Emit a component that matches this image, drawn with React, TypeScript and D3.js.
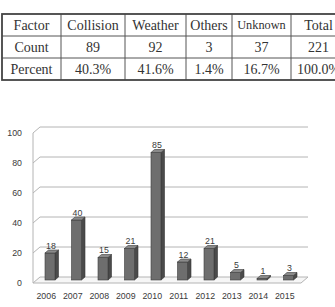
// Accident factor table + yearly count chart (pseudo-3D column chart).
import * as d3 from "d3";

const factorHeader = "Factor";
const factors = ["Collision", "Weather", "Others", "Unknown", "Total"];
const countLabel = "Count";
const counts = ["89", "92", "3", "37", "221"];
const percentLabel = "Percent";
const percents = ["40.3%", "41.6%", "1.4%", "16.7%", "100.0%"];

const years = ["2006", "2007", "2008", "2009", "2010", "2011", "2012", "2013", "2014", "2015"];
const values = [18, 40, 15, 21, 85, 12, 21, 5, 1, 3];
const yTicks = [0, 20, 40, 60, 80, 100];

// table layout
const colEdges = [2, 61, 125, 186, 232, 291, 346];
const rowEdges = [14, 36, 58, 80];

// chart layout
const front = { left: 33, right: 298, bottom: 283, top: 133 };
const wall = { dx: 7, dy: -6 }; // back wall offset from front plane
const mid = { dx: 3.75, dy: -3 }; // bars sit mid-depth
const barW = 10;
const barDepth = { dx: 3.5, dy: -3 };

const INK = "#333";
const LABEL = "#3a3a3a";
const GRID = "#b4b4b4";
const SANS = "'Liberation Sans', Arial, sans-serif";
const SERIF = "'Liberation Serif', 'Times New Roman', serif";

function Table() {
  const rows = [
    [factorHeader, ...factors],
    [countLabel, ...counts],
    [percentLabel, ...percents],
  ];
  return (
    <g>
      {rows.map((row, ri) =>
        row.map((cell, ci) => {
          const cx = (colEdges[ci] + colEdges[ci + 1]) / 2;
          const cy = (rowEdges[ri] + rowEdges[ri + 1]) / 2;
          const small = ri === 0 && cell === "Unknown";
          return (
            <text
              key={`${ri}-${ci}`}
              x={cx}
              y={cy}
              dy="0.36em"
              textAnchor="middle"
              fontFamily={SERIF}
              fontSize={small ? 12.3 : 14}
              fill={INK}
            >
              {cell}
            </text>
          );
        }),
      )}
      {rowEdges.slice(1, -1).map((y) => (
        <line key={`r${y}`} x1={colEdges[0]} x2={colEdges[colEdges.length - 1]} y1={y} y2={y} stroke="#555" strokeWidth={1} />
      ))}
      {colEdges.slice(1, -1).map((x) => (
        <line key={`c${x}`} x1={x} x2={x} y1={rowEdges[0]} y2={rowEdges[rowEdges.length - 1]} stroke="#555" strokeWidth={1} />
      ))}
      <rect
        x={colEdges[0]}
        y={rowEdges[0]}
        width={colEdges[colEdges.length - 1] - colEdges[0]}
        height={rowEdges[rowEdges.length - 1] - rowEdges[0]}
        fill="none"
        stroke="#444"
        strokeWidth={1.8}
      />
    </g>
  );
}

function Chart() {
  const x = d3.scaleBand<string>().domain(years).range([front.left, front.right]).padding(0);
  const y = d3.scaleLinear().domain([0, 100]).range([front.bottom, front.top]);
  const rightBack = front.right + 3 + wall.dx;

  const floor = d3.path();
  floor.moveTo(front.left, y(0));
  floor.lineTo(front.left + wall.dx, y(0) + wall.dy);
  floor.lineTo(rightBack, y(0) + wall.dy);
  floor.lineTo(rightBack - wall.dx, y(0));
  floor.closePath();

  return (
    <g>
      {/* gridlines on the back wall with slanted side-wall segment */}
      {yTicks.slice(1).map((t) => (
        <polyline
          key={t}
          points={`${front.left},${y(t)} ${front.left + wall.dx},${y(t) + wall.dy} ${rightBack},${y(t) + wall.dy}`}
          fill="none"
          stroke={GRID}
          strokeWidth={1}
        />
      ))}
      <path d={floor.toString()} fill="#f6f6f6" stroke={GRID} strokeWidth={1} />
      <line x1={front.left} x2={front.left} y1={y(100)} y2={y(0)} stroke={GRID} strokeWidth={1} />

      {yTicks.map((t) => (
        <text
          key={t}
          x={front.left - 11}
          y={y(t)}
          dy="0.35em"
          textAnchor="end"
          fontFamily={SANS}
          fontSize={8.8}
          fill={LABEL}
        >
          {t}
        </text>
      ))}

      {years.map((yr, i) => {
        const v = values[i];
        const cx = (x(yr) ?? 0) + x.bandwidth() / 2 + mid.dx;
        const x0 = cx - barW / 2;
        const x1 = cx + barW / 2;
        const yb = y(0) + mid.dy;
        const yt = y(v) + mid.dy;
        const { dx, dy } = barDepth;
        const side = `${x1},${yb} ${x1 + dx},${yb + dy} ${x1 + dx},${yt + dy} ${x1},${yt}`;
        const top = `${x0},${yt} ${x0 + dx},${yt + dy} ${x1 + dx},${yt + dy} ${x1},${yt}`;
        return (
          <g key={yr}>
            <polygon points={side} fill="#4a4a4a" stroke="#383838" strokeWidth={0.6} />
            <rect x={x0} y={yt} width={barW} height={yb - yt} fill="#6e6e6e" stroke="#3c3c3c" strokeWidth={0.6} />
            <polygon points={top} fill="#8a8a8a" stroke="#3c3c3c" strokeWidth={0.6} />
            <text
              x={cx + 1}
              y={yt + dy - 1.5}
              textAnchor="middle"
              fontFamily={SANS}
              fontSize={8.8}
              fill={LABEL}
            >
              {v}
            </text>
          </g>
        );
      })}

      {years.map((yr) => (
        <text
          key={yr}
          x={(x(yr) ?? 0) + x.bandwidth() / 2}
          y={296}
          dy="0.35em"
          textAnchor="middle"
          fontFamily={SANS}
          fontSize={8.8}
          fill={LABEL}
        >
          {yr}
        </text>
      ))}
    </g>
  );
}

export default function App() {
  return (
    <div>
      <style>{`body { margin: 0; background: #fff; }`}</style>
      <svg width={335} height={307} viewBox="0 0 335 307" style={{ display: "block" }}>
        <rect width={335} height={307} fill="#fff" />
        <Table />
        <Chart />
      </svg>
    </div>
  );
}
